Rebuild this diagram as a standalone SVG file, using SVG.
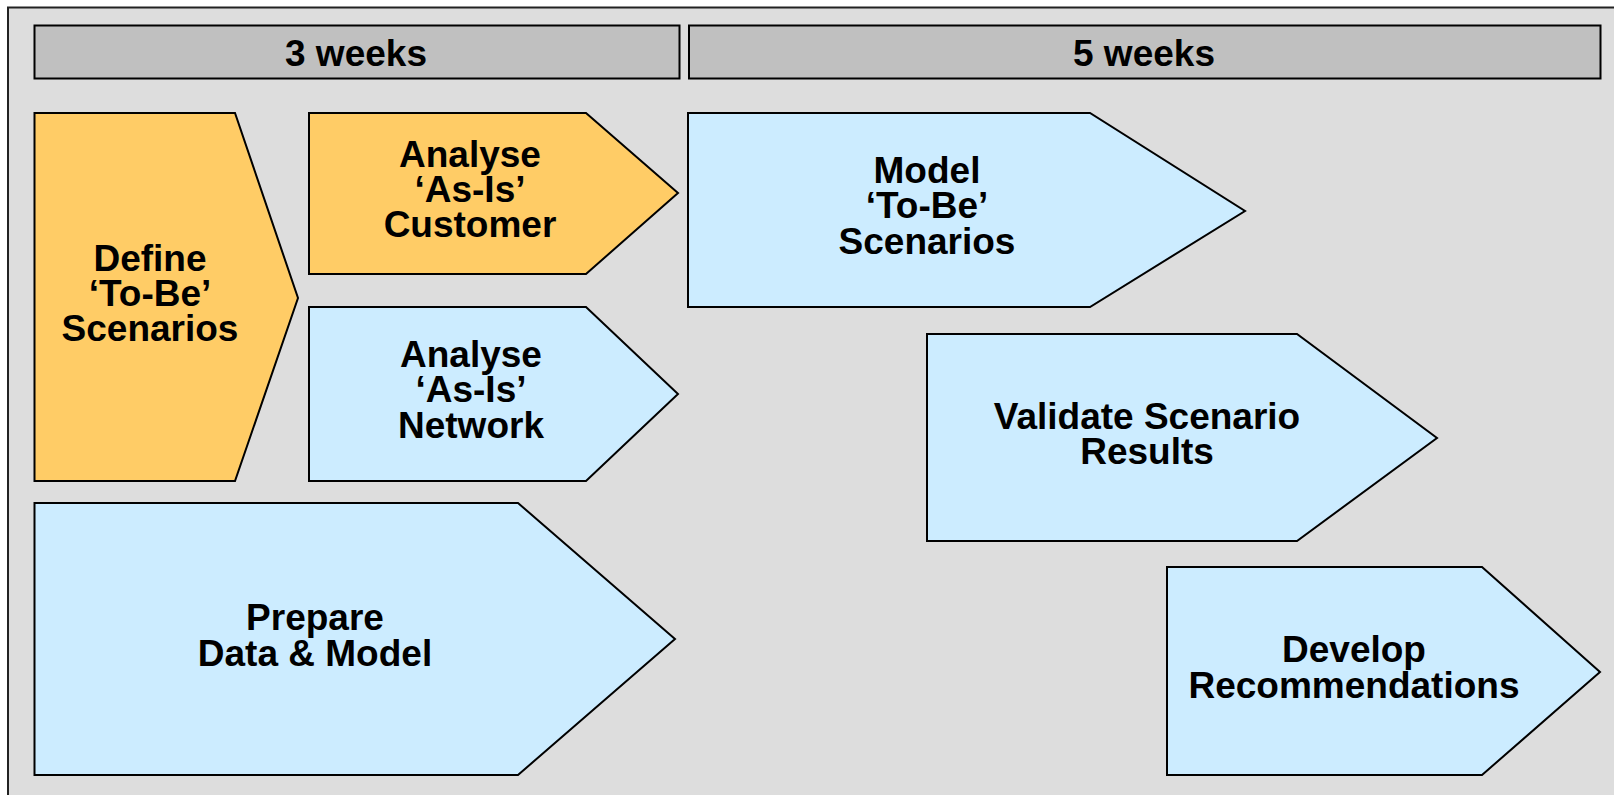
<svg xmlns="http://www.w3.org/2000/svg" width="1614" height="795" viewBox="0 0 1614 795">
<style>
.bar{fill:#C0C0C0;stroke:#000;stroke-width:2}
.org{fill:#FFCC66;stroke:#000;stroke-width:2;stroke-linejoin:miter}
.blu{fill:#CCECFF;stroke:#000;stroke-width:2;stroke-linejoin:miter}
text{font-family:"Liberation Sans",Arial,sans-serif;font-weight:bold;font-size:37px;fill:#000;text-anchor:middle}
</style>
<rect x="0" y="0" width="1614" height="795" fill="#FFFFFF"/>
<rect id="frame" x="8" y="7.5" width="1620" height="800" fill="#DDDDDD" stroke="#222" stroke-width="2"/>
<g id="bar-3weeks">
<rect class="bar" x="34.5" y="25.5" width="645" height="53"/>
<text x="356" y="66">3 weeks</text>
</g>
<g id="bar-5weeks">
<rect class="bar" x="689" y="25.5" width="911.5" height="53"/>
<text x="1144" y="66">5 weeks</text>
</g>
<g id="define">
<polygon class="org" points="34.5,113 235,113 298,298 235,481 34.5,481"/>
<text x="150" y="271">Define<tspan x="150" dy="35">‘To-Be’</tspan><tspan x="150" dy="35">Scenarios</tspan></text>
</g>
<g id="analyse-customer">
<polygon class="org" points="309,113 586,113 678,193 586,274 309,274"/>
<text x="470" y="167">Analyse<tspan x="470" dy="35">‘As-Is’</tspan><tspan x="470" dy="35">Customer</tspan></text>
</g>
<g id="analyse-network">
<polygon class="blu" points="309,307 586,307 678,394 586,481 309,481"/>
<text x="471" y="367">Analyse<tspan x="471" dy="35">‘As-Is’</tspan><tspan x="471" dy="36">Network</tspan></text>
</g>
<g id="prepare">
<polygon class="blu" points="34.5,503 518,503 675,639 518,775 34.5,775"/>
<text x="315" y="630">Prepare<tspan x="315" dy="36">Data &amp; Model</tspan></text>
</g>
<g id="model">
<polygon class="blu" points="688,113 1090,113 1245,211 1090,307 688,307"/>
<text x="927" y="183">Model<tspan x="927" dy="35">‘To-Be’</tspan><tspan x="927" dy="36">Scenarios</tspan></text>
</g>
<g id="validate">
<polygon class="blu" points="927,334 1297,334 1437,438 1297,541 927,541"/>
<text x="1147" y="429">Validate Scenario<tspan x="1147" dy="35">Results</tspan></text>
</g>
<g id="develop">
<polygon class="blu" points="1167,567 1482,567 1600,672 1482,775 1167,775"/>
<text x="1354" y="662">Develop<tspan x="1354" dy="36">Recommendations</tspan></text>
</g>
<g id="connectors"></g>
</svg>
